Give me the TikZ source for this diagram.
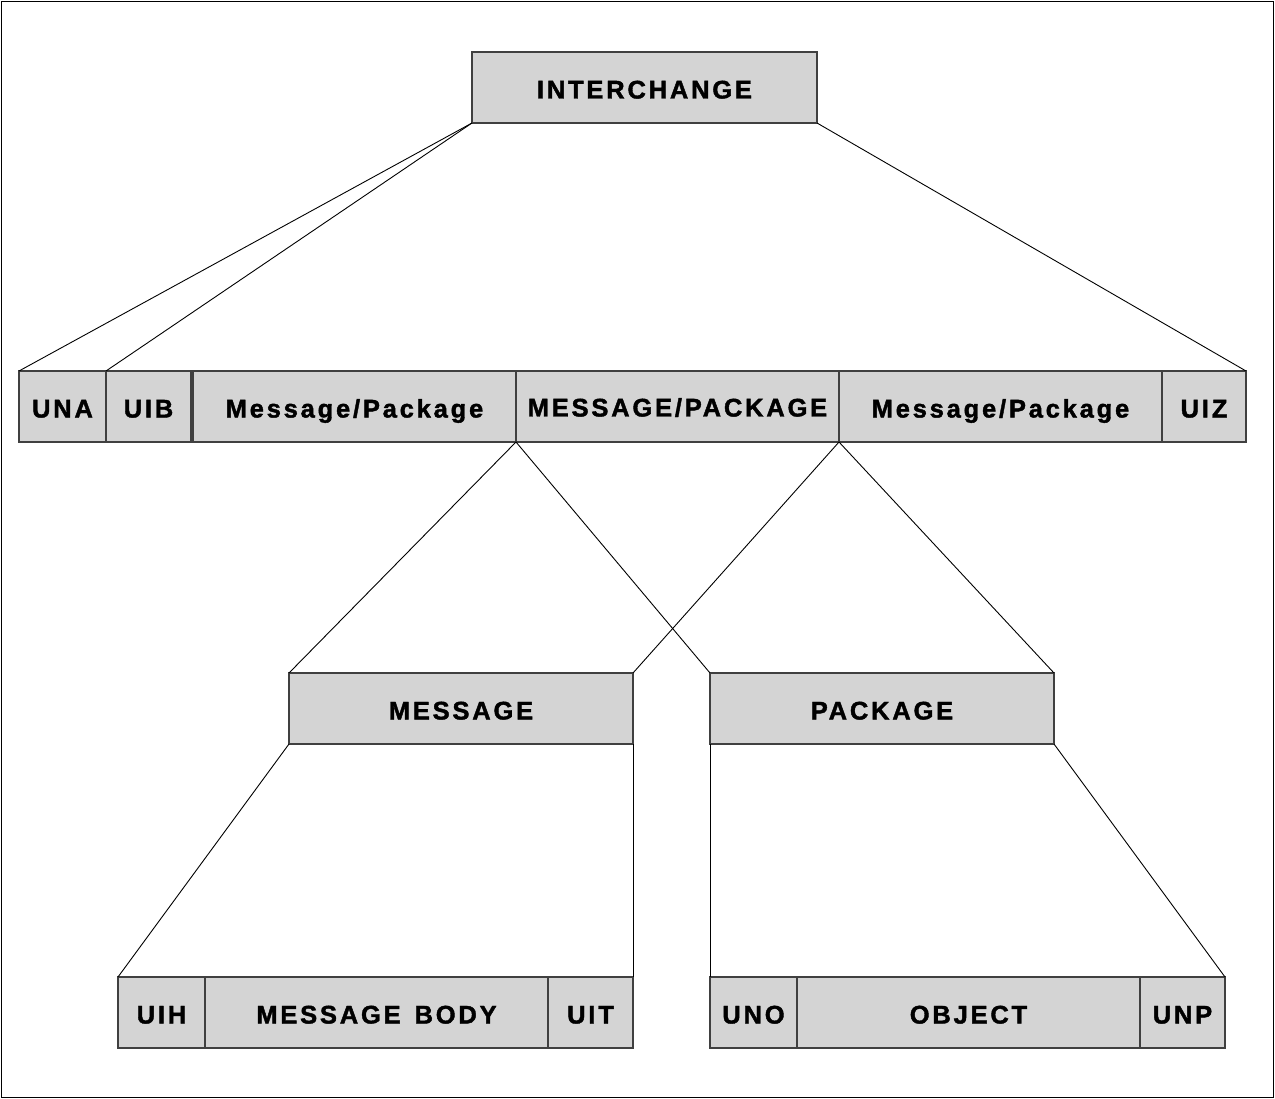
\documentclass[tikz,border=0pt]{standalone}
\usepackage{fontspec}
\setmainfont{Liberation Sans}[LetterSpace=11,BoldFeatures={FakeBold=1.6}]
\begin{document}
\begin{tikzpicture}[x=1pt,y=-1pt,
  cell/.style={draw=black!75,line width=1.2pt,fill=black!17,anchor=north west,
    inner sep=0pt,outer sep=0pt,minimum height=71pt,text height=22pt,text depth=0pt,
    font=\fontsize{25.5}{30}\selectfont\bfseries},
  link/.style={draw=black,line width=0.9pt}]
\useasboundingbox (0,0) rectangle (1275,1099);
\draw[line width=1.6pt] (1.5,1.5) rectangle (1273.5,1097.5);
% top
\node[cell,minimum width=345pt] (ic) at (472,52) {INTERCHANGE};
% middle row
\node[cell,minimum width=87pt] (una) at (19,371) {UNA};
\node[cell,minimum width=85pt] (uib) at (106,371) {UIB};
\node[cell,minimum width=323pt] (mp1) at (193,371) {Message/Package};
\node[cell,minimum width=323pt,text height=20pt] (mp2) at (516,371) {MESSAGE/PACKAGE};
\node[cell,minimum width=323pt] (mp3) at (839,371) {Message/Package};
\node[cell,minimum width=84pt] (uiz) at (1162,371) {UIZ};
% level 3
\node[cell,minimum width=344pt] (msg) at (289,673) {MESSAGE};
\node[cell,minimum width=344pt] (pkg) at (710,673) {PACKAGE};
% bottom rows
\node[cell,minimum width=87pt] (uih) at (118,977) {UIH};
\node[cell,minimum width=343pt] (body) at (205,977) {MESSAGE\hspace{4pt} BODY};
\node[cell,minimum width=85pt] (uit) at (548,977) {UIT};
\node[cell,minimum width=87pt] (uno) at (710,977) {UNO};
\node[cell,minimum width=343pt] (obj) at (797,977) {OBJECT};
\node[cell,minimum width=85pt] (unp) at (1140,977) {UNP};
% connectors
\draw[link] (ic.south west) -- (una.north west);
\draw[link] (ic.south west) -- (uib.north west);
\draw[link] (ic.south east) -- (uiz.north east);
\draw[link] (mp2.south west) -- (msg.north west);
\draw[link] (mp2.south west) -- (pkg.north west);
\draw[link] (mp2.south east) -- (msg.north east);
\draw[link] (mp2.south east) -- (pkg.north east);
\draw[link] (msg.south west) -- (uih.north west);
\draw[link] (msg.south east) -- (uit.north east);
\draw[link] (pkg.south west) -- (uno.north west);
\draw[link] (pkg.south east) -- (unp.north east);
\end{tikzpicture}
\end{document}
